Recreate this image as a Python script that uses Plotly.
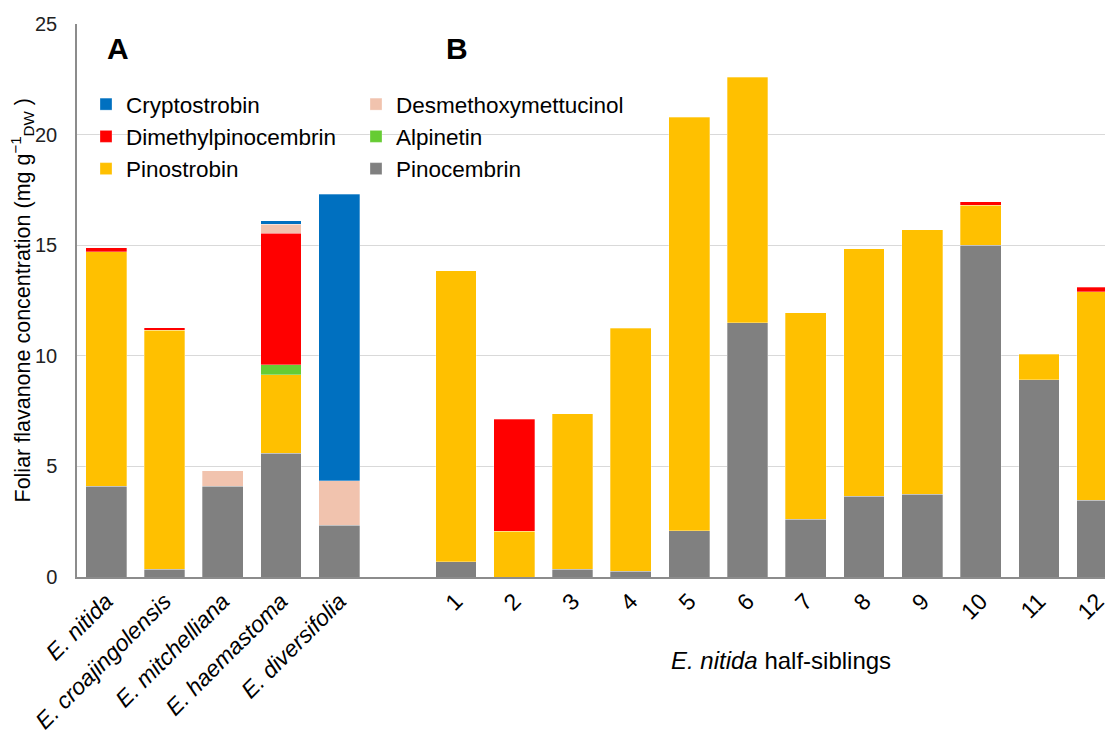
import plotly.graph_objects as go

# ---- data ----
species = ["E. nitida", "E. croajingolensis", "E. mitchelliana", "E. haemastoma", "E. diversifolia"]
siblings = ["1", "2", "3", "4", "5", "6", "7", "8", "9", "10", "11", "12"]

# values: first 5 = species (A), next 12 = half-siblings (B)
pinocembrin = [4.1, 0.36, 4.1, 5.6, 2.35,
               0.7, 0.0, 0.35, 0.25, 2.1, 11.5, 2.6, 3.65, 3.75, 15.0, 8.92, 3.48]
pinostrobin = [10.6, 10.8, 0.0, 3.55, 0.0,
               13.14, 2.07, 7.02, 11.0, 18.68, 11.1, 9.34, 11.18, 11.95, 1.8, 1.16, 9.42]
alpinetin = [0.0, 0.0, 0.0, 0.45, 0.0,
             0, 0, 0, 0, 0, 0, 0, 0, 0, 0, 0, 0]
dimethylpinocembrin = [0.18, 0.11, 0.0, 5.95, 0.0,
                       0, 5.06, 0, 0, 0, 0, 0, 0, 0, 0.17, 0, 0.2]
desmethoxymettucinol = [0.0, 0.0, 0.7, 0.4, 2.0,
                        0, 0, 0, 0, 0, 0, 0, 0, 0, 0, 0, 0]
cryptostrobin = [0.0, 0.0, 0.0, 0.15, 12.95,
                 0, 0, 0, 0, 0, 0, 0, 0, 0, 0, 0, 0]

y_ticks = [0, 5, 10, 15, 20, 25]

# ---- positions (one empty slot between panels A and B) ----
pos = list(range(len(species))) + [len(species) + 1 + i for i in range(len(siblings))]
ticktext = ["<i>%s</i>" % s for s in species] + siblings

FONT = "Liberation Sans, Arial, sans-serif"

series = [
    ("Pinocembrin", pinocembrin, "#808080", "legend2"),
    ("Pinostrobin", pinostrobin, "#FFC000", "legend"),
    ("Alpinetin", alpinetin, "#66CC33", "legend2"),
    ("Dimethylpinocembrin", dimethylpinocembrin, "#FF0000", "legend"),
    ("Desmethoxymettucinol", desmethoxymettucinol, "#F1C3AE", "legend2"),
    ("Cryptostrobin", cryptostrobin, "#0070C0", "legend"),
]

fig = go.Figure()
for name, vals, color, lg in series:
    fig.add_trace(go.Bar(
        x=pos,
        y=[v if v else None for v in vals],
        name=name,
        marker=dict(color=color, line=dict(color="rgba(255,255,255,0.5)", width=0.6)),
        legend=lg,
    ))

# page body has an 8px margin: figure drawn from (8, 8)
OFF = 8
W, H = 1113 - OFF, 735 - OFF
L, R, T, B = 77 - OFF, 0, 24 - OFF, 158
pw, ph = W - L - R, H - T - B

def px(xp):
    return (xp - OFF - L) / pw

def py(yp):
    return (H - B - (yp - OFF)) / ph

fig.update_layout(
    width=W, height=H,
    margin=dict(l=L, r=R, t=T, b=B),
    paper_bgcolor="white", plot_bgcolor="white",
    barmode="stack", bargap=0.3,
    font=dict(family=FONT, color="black", size=20),
    legend=dict(x=px(86), y=py(83), xanchor="left", yanchor="top",
                traceorder="reversed", font=dict(size=22.5, family=FONT),
                bgcolor="rgba(0,0,0,0)", itemclick=False, tracegroupgap=0),
    legend2=dict(x=px(356), y=py(83), xanchor="left", yanchor="top",
                 traceorder="reversed", font=dict(size=22.5, family=FONT),
                 bgcolor="rgba(0,0,0,0)", itemclick=False, tracegroupgap=0),
    xaxis=dict(
        range=[-0.5, 17.27],
        tickmode="array", tickvals=pos, ticktext=ticktext,
        tickangle=-45, tickfont=dict(size=23, family=FONT),
        showline=True, linecolor="#8c8c8c", linewidth=1.5,
        showgrid=False, zeroline=False, ticks="",
    ),
    yaxis=dict(
        range=[0, 25], tickmode="array", tickvals=y_ticks,
        tickfont=dict(size=20, family=FONT, color="#222"),
        showline=True, linecolor="#8c8c8c", linewidth=1.5,
        gridcolor="#d9d9d9", gridwidth=1, zeroline=False,
        ticks="", ticklabelstandoff=14,
    ),
    annotations=[
        dict(text="Foliar flavanone concentration (mg g<sup>\u22121</sup><sub>DW</sub> )",
             xref="paper", yref="paper", x=px(22), y=0.5, textangle=-90,
             showarrow=False, xanchor="center", yanchor="middle",
             font=dict(size=21.5, family=FONT)),
        dict(text="<i>E. nitida</i> half-siblings", xref="paper", yref="paper",
             x=px(781), y=py(660), showarrow=False, xanchor="center", yanchor="middle",
             font=dict(size=24, family=FONT)),
        dict(text="<b>A</b>", xref="paper", yref="paper", x=px(118), y=py(48),
             showarrow=False, xanchor="center", yanchor="middle",
             font=dict(size=30, family=FONT)),
        dict(text="<b>B</b>", xref="paper", yref="paper", x=px(457), y=py(48),
             showarrow=False, xanchor="center", yanchor="middle",
             font=dict(size=30, family=FONT)),
    ],
)

fig.write_html("out.html")
